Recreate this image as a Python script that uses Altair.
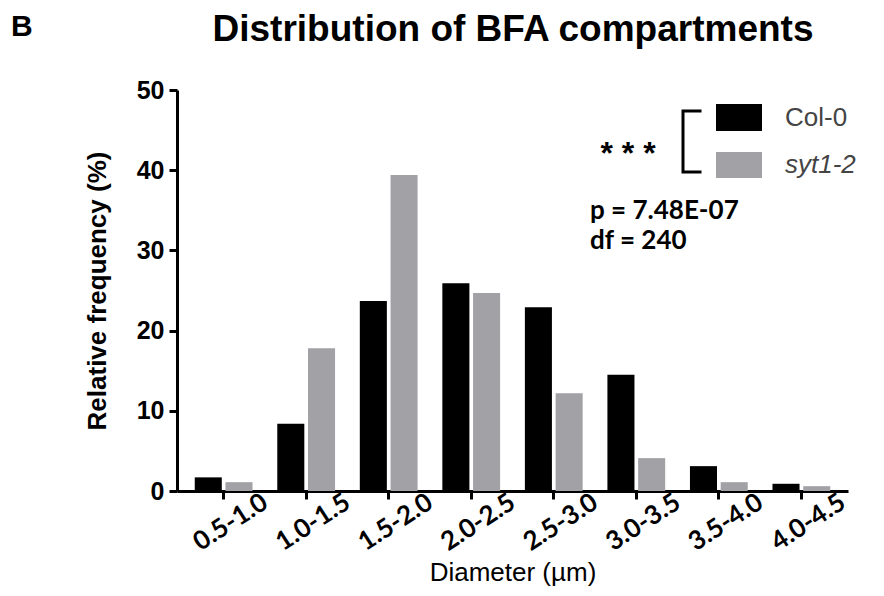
import altair as alt
import pandas as pd

categories = ["0.5-1.0", "1.0-1.5", "1.5-2.0", "2.0-2.5", "2.5-3.0", "3.0-3.5", "3.5-4.0", "4.0-4.5"]
col0 = [1.7, 8.4, 23.7, 25.9, 22.9, 14.5, 3.1, 0.9]
syt1_2 = [1.1, 17.8, 39.4, 24.7, 12.2, 4.1, 1.1, 0.6]
series = ["Col-0", "syt1-2"]
colors = ["#000000", "#a2a1a6"]

rows = []
for c, a, b in zip(categories, col0, syt1_2):
    rows.append({"bin": c, "genotype": series[0], "freq": a})
    rows.append({"bin": c, "genotype": series[1], "freq": b})
df = pd.DataFrame(rows)

W, H = 671, 401
FONT = "Liberation Sans"

bars = alt.Chart(df).mark_bar().encode(
    x=alt.X("bin:N", sort=categories,
            scale=alt.Scale(paddingInner=0.30, paddingOuter=0.215),
            axis=alt.Axis(title="Diameter (µm)", labelAngle=-33, labelAlign="center",
                          labelBaseline="top", labelPadding=12, labelFontSize=26, labelFont="Lato",
                          titleFontSize=26, titleFontWeight="normal", titlePadding=4)),
    xOffset=alt.XOffset("genotype:N", sort=series, scale=alt.Scale(paddingInner=0.12)),
    y=alt.Y("freq:Q", scale=alt.Scale(domain=[0, 50], nice=False),
            axis=alt.Axis(title="Relative frequency (%)", values=[0, 10, 20, 30, 40, 50],
                          labelFontSize=25, labelPadding=5, titleFontSize=26, titlePadding=26)),
    color=alt.Color("genotype:N", scale=alt.Scale(domain=series, range=colors), legend=None),
)

def txt(text, x, y, size, weight="normal", style="normal", color="#000000", font=FONT, align="left"):
    return alt.Chart(pd.DataFrame({"t": [text]})).mark_text(
        align=align, baseline="middle", fontSize=size, fontWeight=weight, fontStyle=style,
        color=color, font=font
    ).encode(text="t:N", x=alt.value(x), y=alt.value(y))

rect0 = alt.Chart(pd.DataFrame({"g": ["Col-0"]})).mark_rect(color="#000000").encode(
    x=alt.value(539), x2=alt.value(585), y=alt.value(14), y2=alt.value(41))
rect1 = alt.Chart(pd.DataFrame({"g": ["syt1-2"]})).mark_rect(color="#a2a1a6").encode(
    x=alt.value(539), x2=alt.value(585), y=alt.value(62), y2=alt.value(88))

bracket = alt.Chart(pd.DataFrame({"x": [523, 506, 506, 523], "y": [21, 21, 82, 82], "o": [0, 1, 2, 3]})).mark_line(
    color="#000000", strokeWidth=3, strokeCap="square").encode(
    x=alt.X("x:Q", scale=None), y=alt.Y("y:Q", scale=None), order="o:Q")

layers = [
    bars, rect0, rect1, bracket,
    txt("Col-0", 608, 28, 26, color="#444444"),
    txt("syt1-2", 608, 75, 26, style="italic", color="#444444"),
    txt("* * *", 451, 64, 32, weight="bold", align="center"),
    txt("p = 7.48E-07", 413, 121, 26, weight="bold", font="Lato"),
    txt("df = 240", 413, 151, 26, weight="bold", font="Lato"),
    txt("Distribution of BFA compartments", 336, -60, 37, weight="bold",
        font="Liberation Sans Narrow, Arial Narrow, Liberation Sans", align="center"),
    txt("B", -166, -63, 30, weight="bold"),
]

chart = alt.layer(*layers).properties(
    width=W, height=H,
    autosize=alt.AutoSizeParams(type="none"),
    padding={"left": 169, "top": 82, "right": 28, "bottom": 97},
).configure_view(stroke=None).configure_axis(
    grid=False, domainColor="#000000", domainWidth=3, tickColor="#000000", tickWidth=3,
    tickSize=8, labelColor="#000000", titleColor="#000000", labelFont=FONT, titleFont=FONT,
    labelFontWeight="bold", titleFontWeight="bold"
)

chart.save("out.html", embed_options={"renderer": "svg", "actions": False})
